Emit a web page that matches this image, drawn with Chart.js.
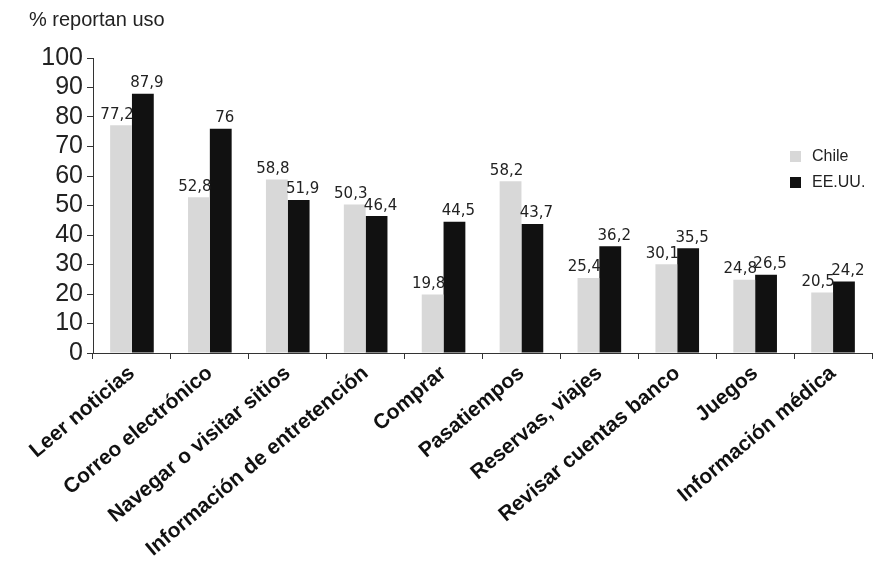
<!DOCTYPE html>
<html>
<head>
<meta charset="utf-8">
<script src="https://cdn.jsdelivr.net/npm/chart.js@4"></script>
<style>
  html, body { margin: 0; padding: 0; background: #fff; }
</style>
</head>
<body>
<canvas id="usoChart" width="884" height="580"></canvas>
<script>
// Datos
const categorias = ['Leer noticias', 'Correo electrónico', 'Navegar o visitar sitios', 'Información de entretención',
    'Comprar', 'Pasatiempos', 'Reservas, viajes', 'Revisar cuentas banco', 'Juegos', 'Información médica'];
const chile = [77.2, 52.8, 58.8, 50.3, 19.8, 58.2, 25.4, 30.1, 24.8, 20.5];
const eeuu = [87.9, 76, 51.9, 46.4, 44.5, 43.7, 36.2, 35.5, 26.5, 24.2];
const yTicks = [0, 10, 20, 30, 40, 50, 60, 70, 80, 90, 100];

// Etiquetas de valores, titulo y leyenda
const extras = {
    id: 'extras',
    afterDatasetsDraw(chart) {
        const ctx = chart.ctx;
        ctx.save();
        ctx.fillStyle = '#222';
        ctx.font = '15px "DejaVu Sans"';
        ctx.textAlign = 'center';
        ctx.textBaseline = 'bottom';
        chart.data.datasets.forEach((ds, i) => {
            const shift = i === 0 ? -4 : 4;
            chart.getDatasetMeta(i).data.forEach((bar, j) => {
                const txt = String(ds.data[j]).replace('.', ',');
                ctx.fillText(txt, bar.x + shift, bar.y - 3);
            });
        });

        // titulo del eje
        ctx.textAlign = 'left';
        ctx.textBaseline = 'middle';
        ctx.font = '20px "Liberation Sans"';
        ctx.fillText('% reportan uso', 29, 20);

        // leyenda
        ctx.font = '16px "Liberation Sans"';
        chart.data.datasets.forEach((ds, i) => {
            const y = 157 + i * 26;
            ctx.fillStyle = ds.backgroundColor;
            ctx.fillRect(790, y - 6, 11, 11);
            ctx.fillStyle = '#222';
            ctx.fillText(ds.label, 812, y);
        });
        ctx.restore();
    }
};

const ctx = document.getElementById('usoChart').getContext('2d');
const usoChart = new Chart(ctx, {
    type: 'bar',
    data: {
        labels: categorias,
        datasets: [
            { label: 'Chile', data: chile, backgroundColor: '#d8d8d8' },
            { label: 'EE.UU.', data: eeuu, backgroundColor: '#111111' }
        ]
    },
    options: {
        responsive: false,
        animation: false,
        layout: { padding: { top: 58, right: 12, left: 0, bottom: 0 } },
        datasets: { bar: { categoryPercentage: 0.56, barPercentage: 1.0 } },
        plugins: {
            legend: { display: false },
            tooltip: { enabled: false }
        },
        scales: {
            x: {
                afterFit: (scale) => { scale.height = 227; },
                grid: { drawOnChartArea: false, tickLength: 6, color: '#333' },
                border: { color: '#333' },
                ticks: {
                    autoSkip: false,
                    minRotation: 40,
                    maxRotation: 40,
                    padding: 2,
                    color: '#111',
                    font: { family: 'Liberation Sans', size: 21, weight: 'bold' }
                }
            },
            y: {
                min: 0,
                max: 100,
                afterFit: (scale) => { scale.width = 93; },
                afterBuildTicks: (scale) => { scale.ticks = yTicks.map(v => ({ value: v })); },
                grid: { drawOnChartArea: false, tickLength: 6, color: '#333' },
                border: { color: '#333' },
                ticks: {
                    autoSkip: false,
                    stepSize: 10,
                    padding: 4,
                    color: '#222',
                    font: { family: 'Liberation Sans', size: 25 }
                }
            }
        }
    },
    plugins: [extras]
});
</script>
</body>
</html>
